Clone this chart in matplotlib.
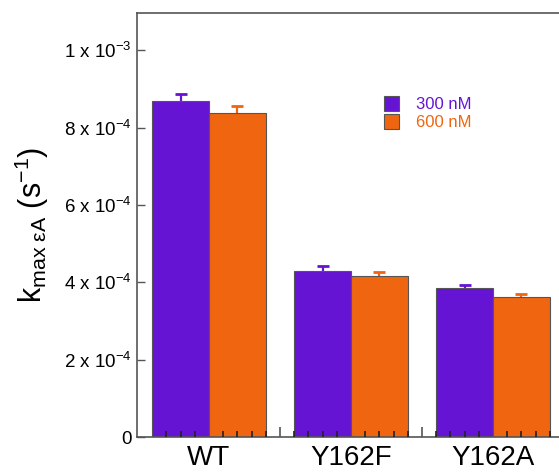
import matplotlib.pyplot as plt
import numpy as np

plt.rcParams['font.family'] = ['Liberation Sans', 'DejaVu Sans']
plt.rcParams['mathtext.fontset'] = 'custom'
plt.rcParams['mathtext.rm'] = 'Liberation Sans'
plt.rcParams['mathtext.it'] = 'Liberation Sans'

groups = ['WT', 'Y162F', 'Y162A']
k_300 = [0.869e-3, 0.430e-3, 0.385e-3]
k_300_err = [0.017e-3, 0.013e-3, 0.008e-3]
k_600 = [0.838e-3, 0.417e-3, 0.363e-3]
k_600_err = [0.017e-3, 0.010e-3, 0.007e-3]
yticks = [0, 2e-4, 4e-4, 6e-4, 8e-4, 1e-3]
ytick_labels = ['0', r'2 x 10$^{\mathregular{-4}}$', r'4 x 10$^{\mathregular{-4}}$',
                r'6 x 10$^{\mathregular{-4}}$', r'8 x 10$^{\mathregular{-4}}$',
                r'1 x 10$^{\mathregular{-3}}$']

purple = '#6614d4'
orange = '#f0650f'
edge = '#555555'

fig = plt.figure(figsize=(5.59, 4.74), dpi=100)
ax = fig.add_axes([0.245, 0.078, 0.755, 0.8946])

x = np.arange(len(groups))
w = 0.4
for off, vals, errs, col, lab in [(-w / 2, k_300, k_300_err, purple, '300 nM'),
                                  (w / 2, k_600, k_600_err, orange, '600 nM')]:
    vals = np.array(vals)
    errs = np.array(errs)
    ax.bar(x + off, vals, w, color=col, edgecolor=edge, linewidth=0.8, label=lab, zorder=2)
    # upper error bar only
    ax.vlines(x + off, vals, vals + errs, color=col, linewidth=1.6, zorder=1.9)
    ax.plot(x + off, vals + errs, linestyle='none', marker='_', markersize=9,
            markeredgewidth=2, color=col, zorder=1.9)

ax.set_xlim(-0.507, 2.465)
ax.set_ylim(0, 1.096e-3)
ax.spines['right'].set_visible(False)
for s in ['left', 'bottom', 'top']:
    ax.spines[s].set_color('#555555')
    ax.spines[s].set_linewidth(1.2)

ax.set_yticks(yticks, ytick_labels, fontsize=13.5)
ax.tick_params(axis='y', direction='in', length=6, width=1, color='#555555', pad=4)

ax.set_xticks(x, groups, fontsize=20)
ax.tick_params(axis='x', which='major', length=0, pad=6)
minor = [m for m in np.arange(-0.3, 2.45, 0.1)
         if abs(m - round(m) + 0.5) > 0.01 and abs(m - round(m) - 0.5) > 0.01]
ax.set_xticks(minor, minor=True)
ax.tick_params(axis='x', which='minor', direction='in', length=4, width=1.2, color='#222222')
ax.set_axisbelow(False)

sec = ax.secondary_xaxis('bottom')
sec.set_xticks([0.5, 1.5], ['', ''])
sec.tick_params(direction='in', length=7, width=1.2, color='#555555')
sec.spines['bottom'].set_visible(False)

ax.set_ylabel(r'k$_{\mathregular{max\ εA}}$ (s$^{\mathregular{-1}}$)', fontsize=22, labelpad=9)

leg = ax.legend(loc='upper left', bbox_to_anchor=(0.55, 0.84), frameon=False, fontsize=12,
                handlelength=0.9, handleheight=1.0, handletextpad=1.0, labelspacing=0.1,
                labelcolor=[purple, orange])

fig.savefig('out.png', dpi=100)
